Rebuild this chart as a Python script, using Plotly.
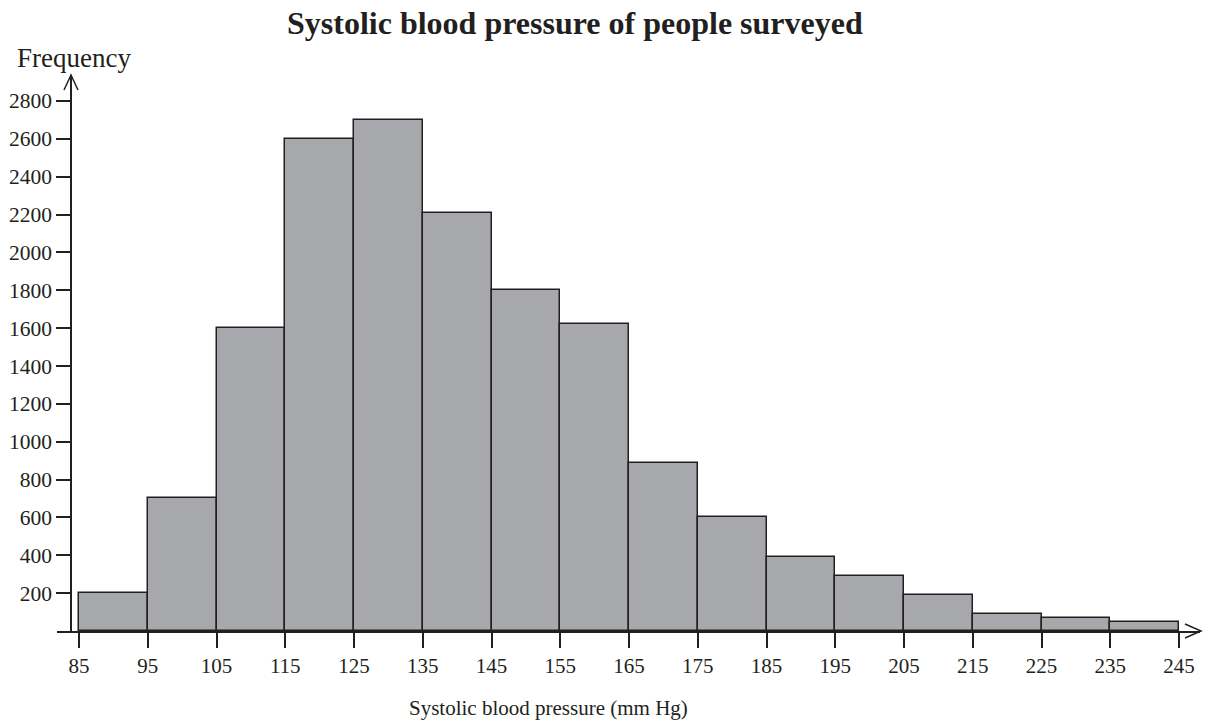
import plotly.graph_objects as go

# Data
bin_edges = [85, 95, 105, 115, 125, 135, 145, 155, 165, 175, 185, 195, 205, 215, 225, 235, 245]
frequencies = [200, 700, 1600, 2600, 2700, 2210, 1800, 1620, 890, 600, 390, 290, 190, 90, 70, 50]
y_ticks = [200, 400, 600, 800, 1000, 1200, 1400, 1600, 1800, 2000, 2200, 2400, 2600, 2800]
x_ticks = bin_edges

centers = [(a + b) / 2 for a, b in zip(bin_edges[:-1], bin_edges[1:])]
widths = [b - a for a, b in zip(bin_edges[:-1], bin_edges[1:])]

W, H = 1207, 721
PL, PR, PT, PB = 57, 1200, 75, 631  # plot area in page pixels
ML = PL
MR = W - PR
MT = PT
MB = H - PB
plot_w = PR - PL
plot_h = PB - PT
yaxis_px = 71
XMIN, XMAX = 81.8, 248.05
YMAX = 2937

FONT = "Liberation Serif, Times New Roman, serif"
TXT = "#231f20"

fig = go.Figure()
fig.add_trace(go.Bar(
    x=centers, y=frequencies, width=widths,
    marker=dict(color="#a7a8ac", line=dict(color="#231f20", width=1.5)),
    hoverinfo="x+y",
))


def px(p):
    return (p - PL) / plot_w


def py(p):
    return (PB - p) / plot_h


shapes = [
    dict(type="path", xref="paper", yref="paper",
         path=f"M {px(yaxis_px-7)} {py(90)} L {px(yaxis_px)} {py(75)} L {px(yaxis_px+7)} {py(90)}",
         line=dict(color=TXT, width=1.5)),
    dict(type="path", xref="paper", yref="paper",
         path=f"M {px(1185)} {py(624)} L {px(1201)} {py(631)} L {px(1185)} {py(638)}",
         line=dict(color=TXT, width=1.5)),
]

fig.update_layout(
    width=W, height=H,
    margin=dict(l=ML, r=MR, t=MT, b=MB, autoexpand=False),
    plot_bgcolor="white", paper_bgcolor="white",
    showlegend=False,
    bargap=0,
    font=dict(family=FONT, color=TXT),
    xaxis=dict(range=[XMIN, XMAX], tickvals=x_ticks, ticktext=[str(v) for v in x_ticks],
               showgrid=False, zeroline=False, showline=True, linecolor=TXT, linewidth=1.5,
               ticks="outside", ticklen=15, tickwidth=1.5, tickcolor=TXT,
               tickfont=dict(size=21, family=FONT, color=TXT),
               fixedrange=True),
    yaxis=dict(range=[0, YMAX], tickvals=y_ticks, ticktext=[str(v) for v in y_ticks],
               anchor="free", position=px(yaxis_px),
               showgrid=False, zeroline=False, showline=True, linecolor=TXT, linewidth=1.5,
               ticks="outside", ticklen=14, tickwidth=1.5, tickcolor=TXT,
               tickfont=dict(size=21.5, family=FONT, color=TXT),
               fixedrange=True),
    shapes=shapes,
    annotations=[
        dict(text="<b>Systolic blood pressure of people surveyed</b>", xref="paper", yref="paper",
             x=px(575), xanchor="center", y=py(23), yanchor="middle",
             showarrow=False, font=dict(size=32, family=FONT, color=TXT)),
        dict(text="Frequency", xref="paper", yref="paper",
             x=px(15), xanchor="left", y=py(58), yanchor="middle",
             showarrow=False, font=dict(size=27, family=FONT, color=TXT)),
        dict(text="Systolic blood pressure (mm Hg)", xref="paper", yref="paper",
             x=px(548), xanchor="center", y=py(708), yanchor="middle",
             showarrow=False, font=dict(size=21, family=FONT, color=TXT)),
    ],
)

fig.write_html("out.html",
               config={"displayModeBar": False},
               post_script="document.body.style.margin='0';document.body.style.overflow='hidden';")
